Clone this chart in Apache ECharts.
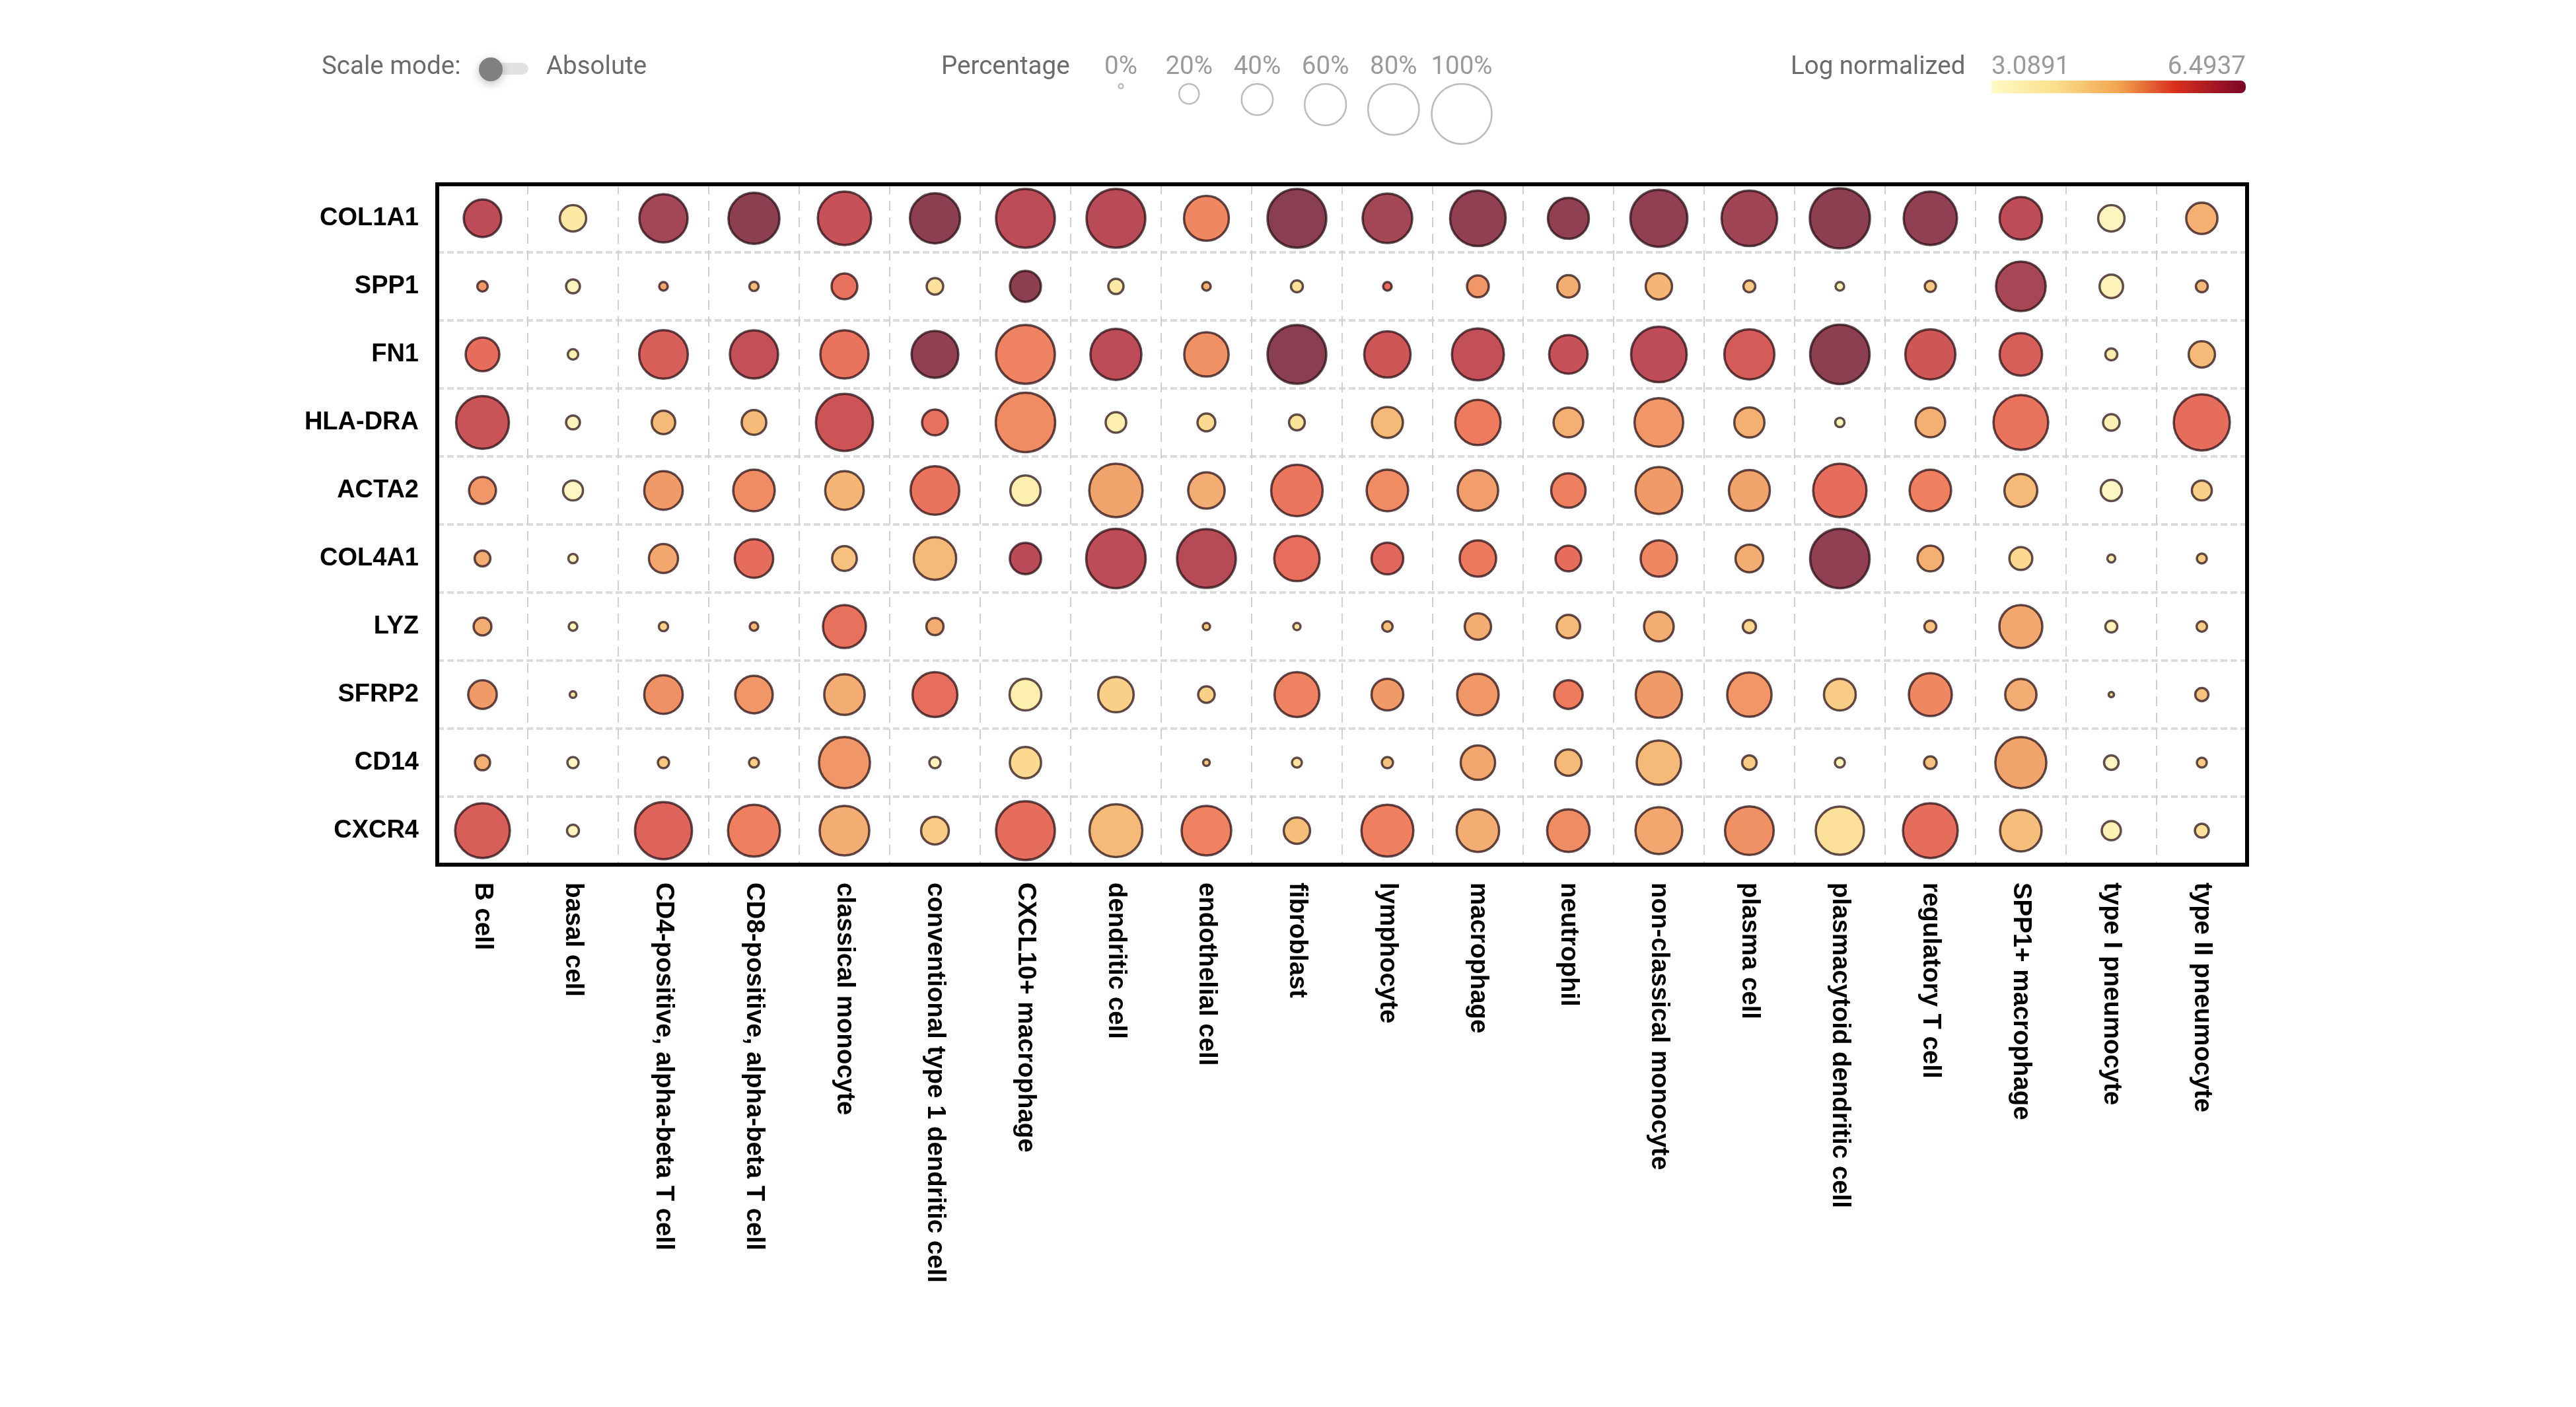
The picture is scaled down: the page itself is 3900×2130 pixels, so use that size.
<!DOCTYPE html>
<html><head><meta charset="utf-8">
<style>html,body{margin:0;padding:0;background:#fff}#c{width:3900px;height:2130px}</style>
<script src="https://cdn.jsdelivr.net/npm/echarts@6/dist/echarts.min.js"></script>
</head><body><div id="c"></div>
<script>
const genes = ['COL1A1','SPP1','FN1','HLA-DRA','ACTA2','COL4A1','LYZ','SFRP2','CD14','CXCR4'];
const cellTypes = ['B cell','basal cell','CD4-positive, alpha-beta T cell','CD8-positive, alpha-beta T cell','classical monocyte','conventional type 1 dendritic cell','CXCL10+ macrophage','dendritic cell','endothelial cell','fibroblast','lymphocyte','macrophage','neutrophil','non-classical monocyte','plasma cell','plasmacytoid dendritic cell','regulatory T cell','SPP1+ macrophage','type I pneumocyte','type II pneumocyte'];

// Percentage of cells expressing each gene, per cell type
const pctCOL1A1 = [52,31,74,80,85,78,97,97,67,97,77,90,59,93,90,100,85,62,31,40];
const pctSPP1   = [6,10.6,3.7,4.5,30,14.6,39.5,12.6,3.7,7.9,3.7,23,24,31,7.9,3.7,7,77,26,7.9];
const pctFN1    = [44.6,6,75,74,74,71,97,80,66,97,70,82,54,90,78,98.5,78,62,7.9,31];
const pctHLADRA = [84,10.6,26,28,93,30,98.5,21,16.6,13.5,39.5,68,37,75,38,4.5,37,88,14.6,91];
const pctACTA2  = [32,20,54,60,54,75,38,85,50,81,60,58,46,71,59,85,60,43,22,20];
const pctCOL4A1 = [13.5,4.5,36,54,28,62,40,98.5,97,68,41,50,30,50,33.5,98.5,30,25,2.9,5.3];
const pctLYZ    = [16.6,3.7,4.5,3.7,63,15.6,null,null,2.2,2.2,6,31,26,37,9.7,null,7.9,63,7.9,6];
const pctSFRP2  = [35,1.6,54,52,58,67,41,48,14.6,67,41,60,35,70,66,41,63,40,0.4,9.7];
const pctCD14   = [12.6,7,7,5.3,80,7,40,null,1.6,5.3,7,46,31,66,11.6,5.3,8.8,80,11.6,5.3];
const pctCXCR4  = [88,7.9,93,82,77,33.5,97,84,77,31,82,62,62,71,75,74,88,60,18.7,10.6];

// Log normalized expression
const valCOL1A1 = [5.8,3.5,6.15,6.45,5.65,6.45,5.8,5.85,4.65,6.49,6.15,6.4,6.4,6.4,6.2,6.45,6.4,5.8,3.25,4.2];
const valSPP1   = [4.5,3.25,4.3,4.1,5.0,3.65,6.45,3.5,4.2,3.65,5.1,4.5,4.25,4.15,3.95,3.3,3.95,6.1,3.3,4.1];
const valFN1    = [5.1,3.4,5.35,5.7,4.95,6.4,4.7,5.8,4.55,6.49,5.5,5.7,5.65,5.8,5.4,6.45,5.5,5.35,3.4,4.1];
const valHLADRA = [5.6,3.3,4.1,4.1,5.55,5.0,4.6,3.4,3.75,3.6,4.1,4.8,4.2,4.5,4.2,3.3,4.2,4.95,3.35,5.1];
const valACTA2  = [4.5,3.2,4.45,4.6,4.15,4.95,3.4,4.35,4.25,4.9,4.6,4.4,4.75,4.45,4.35,5.1,4.75,4.1,3.2,3.85];
const valCOL4A1 = [4.25,3.3,4.3,5.1,4.0,4.1,5.85,5.8,5.9,5.05,5.2,4.85,5.1,4.65,4.25,6.4,4.2,3.75,3.4,3.9];
const valLYZ    = [4.25,3.3,3.85,4.15,5.0,4.25,null,null,3.95,3.6,4.05,4.25,4.1,4.25,3.8,null,4.0,4.3,3.3,3.9];
const valSFRP2  = [4.45,3.6,4.55,4.5,4.25,5.05,3.4,3.85,3.85,4.7,4.45,4.5,4.8,4.45,4.5,3.9,4.65,4.25,3.7,4.0];
const valCD14   = [4.2,3.2,3.95,3.85,4.5,3.3,3.75,null,3.95,3.6,4.0,4.3,4.1,4.1,3.9,3.3,4.0,4.35,3.2,3.9];
const valCXCR4  = [5.35,3.25,5.25,4.75,4.25,3.9,5.1,4.1,4.7,4.05,4.75,4.25,4.6,4.3,4.55,3.65,5.1,4.05,3.35,3.65];

const pctRows = [pctCOL1A1,pctSPP1,pctFN1,pctHLADRA,pctACTA2,pctCOL4A1,pctLYZ,pctSFRP2,pctCD14,pctCXCR4];
const valRows = [valCOL1A1,valSPP1,valFN1,valHLADRA,valACTA2,valCOL4A1,valLYZ,valSFRP2,valCD14,valCXCR4];
const legendPcts = [0,20,40,60,80,100];
const legendLabels = ['0%','20%','40%','60%','80%','100%'];
const scaleMin = 3.0891, scaleMax = 6.4937;

const sizeOf = p => 7 + 84 * Math.pow(p / 100, 0.8);

const points = [];
pctRows.forEach((row, y) => row.forEach((p, x) => {
  if (p !== null) points.push([x, y, p, valRows[y][x]]);
}));

const SANS = '"Liberation Sans", Arial, sans-serif';
const UI = 'Roboto, sans-serif';
const txt = (x, y, text, fill, align) => ({
  type: 'text', x, y,
  style: { text, fill, font: '38.5px ' + UI, align: align || 'left', verticalAlign: 'middle' }
});

const graphics = [
  txt(487, 102, 'Scale mode:', '#6b6b6b'),
  { type: 'rect', shape: { x: 743, y: 95, width: 57, height: 18, r: 9 }, style: { fill: '#e2e2e2' } },
  { type: 'circle', shape: { cx: 743, cy: 105, r: 18 }, style: { fill: '#808080', shadowBlur: 14, shadowColor: 'rgba(0,0,0,0.25)', shadowOffsetY: 4 } },
  txt(827, 102, 'Absolute', '#6b6b6b'),
  txt(1425, 102, 'Percentage', '#6b6b6b'),
  txt(2711, 102, 'Log normalized', '#6b6b6b'),
  txt(3015, 102, String(scaleMin), '#9a9a9a'),
  txt(3400, 102, String(scaleMax), '#9a9a9a', 'right'),
  { type: 'rect', shape: { x: 3015, y: 122, width: 385, height: 19, r: [0, 8, 8, 0] },
    style: { fill: { type: 'linear', x: 0, y: 0, x2: 1, y2: 0, colorStops: [
      { offset: 0, color: '#fffac4' }, { offset: 0.25, color: '#fbdf8c' }, { offset: 0.5, color: '#f2a44f' },
      { offset: 0.72, color: '#d9301e' }, { offset: 1, color: '#7a0527' } ] } } }
];
legendPcts.forEach((p, i) => {
  const cx = 1697 + 103.2 * i, r = sizeOf(p) / 2;
  graphics.push(txt(cx, 102, legendLabels[i], '#9a9a9a', 'center'));
  graphics.push({ type: 'circle', shape: { cx, cy: 127 + r, r }, style: { fill: '#fff', stroke: '#bcbcbc', lineWidth: 2.5 } });
});

const chart = echarts.init(document.getElementById('c'));
chart.setOption({
  animation: false,
  backgroundColor: '#fff',
  grid: { left: 662, top: 279, width: 2740, height: 1030, show: true, borderColor: '#000', borderWidth: 6, backgroundColor: 'transparent', z: 3 },
  xAxis: {
    type: 'category', data: cellTypes, position: 'bottom',
    axisLine: { show: false }, axisTick: { show: false },
    axisLabel: { rotate: -90, interval: 0, margin: 27, color: '#000', fontFamily: SANS, fontWeight: 'bold', fontSize: 38.4 },
    splitLine: { show: true, interval: 0, lineStyle: { color: '#cfcfcf', width: 2, type: [15, 10] } }
  },
  yAxis: {
    type: 'category', data: genes, inverse: true,
    axisLine: { show: false }, axisTick: { show: false },
    axisLabel: { interval: 0, margin: 28, color: '#000', fontFamily: SANS, fontWeight: 'bold', fontSize: 38 },
    splitLine: { show: true, interval: 0, lineStyle: { color: '#dcdcdc', width: 4, type: [10, 5] } }
  },
  visualMap: {
    show: false, type: 'continuous', dimension: 3, seriesIndex: 0, min: scaleMin, max: scaleMax,
    inRange: { color: ['#fffbd0','#fdeeaa','#fbd88f','#f5b877','#f09a68','#ee7b5e','#e56a5c','#d15757','#bc4c58','#a34655','#8a3e52'] }
  },
  series: [{
    type: 'scatter', data: points, clip: false,
    encode: { x: 0, y: 1 },
    symbol: 'circle',
    symbolSize: d => sizeOf(d[2]),
    itemStyle: { opacity: 1, borderColor: 'rgba(35,10,15,0.72)', borderWidth: 3.5 },
    z: 5
  }],
  graphic: graphics
});
</script></body></html>
